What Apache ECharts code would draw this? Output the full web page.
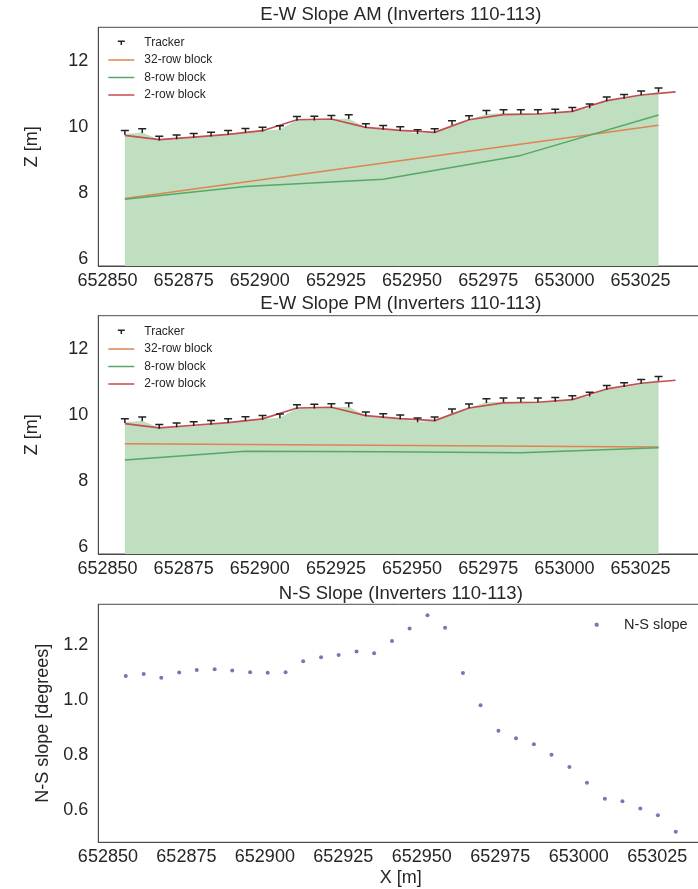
<!DOCTYPE html>
<html><head><meta charset="utf-8">
<script src="https://cdn.jsdelivr.net/npm/echarts@6/dist/echarts.min.js"></script>
<style>html,body{margin:0;padding:0;background:#fff}#c{width:698px;height:889px}</style>
</head><body><div id="c"></div>
<script>
// ---- data ----
const trackerX = [652855.7, 652861.4, 652867.0, 652872.7, 652878.3, 652884.0, 652889.6, 652895.3,
  652900.9, 652906.6, 652912.2, 652917.9, 652923.5, 652929.2, 652934.8, 652940.5,
  652946.1, 652951.8, 652957.4, 652963.1, 652968.7, 652974.4, 652980.0, 652985.7,
  652991.3, 652997.0, 653002.6, 653008.3, 653013.9, 653019.6, 653025.2, 653030.9];
const trackerZ = [9.785, 9.836, 9.615, 9.654, 9.693, 9.736, 9.785, 9.845,
  9.888, 9.927, 10.209, 10.222, 10.24, 10.261, 9.988, 9.936,
  9.897, 9.806, 9.836, 10.079, 10.231, 10.392, 10.413, 10.413,
  10.413, 10.434, 10.483, 10.586, 10.798, 10.877, 10.98, 11.071];
const block2X = [652855.7, 652867.0, 652878.3, 652889.6, 652900.9, 652912.2, 652923.5, 652934.8,
  652946.1, 652957.4, 652968.7, 652980.0, 652991.3, 653002.6, 653013.9, 653025.2, 653036.5];
const block2Z = [9.745, 9.615, 9.696, 9.776, 9.888, 10.22, 10.243, 9.988,
  9.897, 9.836, 10.22, 10.373, 10.394, 10.473, 10.798, 10.97, 11.062];
const block8X = [652855.7, 652895.3, 652940.5, 652985.7, 653030.9];
const block8ZAM = [7.815, 8.2, 8.42, 9.14, 10.364];
const block8ZPM = [8.645, 8.905, 8.895, 8.86, 9.015];
const block32X = [652855.7, 653030.9];
const block32ZAM = [7.835, 10.05];
const block32ZPM = [9.132, 9.04];
const nsSlope = [1.087, 1.095, 1.081, 1.100, 1.109, 1.112, 1.107, 1.101,
  1.099, 1.101, 1.141, 1.156, 1.164, 1.176, 1.170, 1.215,
  1.260, 1.308, 1.263, 1.098, 0.981, 0.888, 0.861, 0.839,
  0.801, 0.757, 0.699, 0.641, 0.632, 0.606, 0.581, 0.521];
const xTicks = [652850, 652875, 652900, 652925, 652950, 652975, 653000, 653025];
const zTicks = [6, 8, 10, 12];
const nsTicks = [0.6, 0.8, 1.0, 1.2];

// ---- styles ----
const FONT = 'Liberation Sans, Arial, sans-serif';
const TXT = '#262626';
const C_FILL = '#c0dfc0', C_OR = '#dd8452', C_GR = '#55a868', C_RD = '#c44e52', C_TR = '#222222', C_NS = '#8172b3';
const CORNERS = 'M0,0 L0.01,0 L0,0.01 Z M26,14 L25.99,14 L26,13.99 Z ';
const ICON_LINE = 'path://' + CORNERS + 'M0,6.25 H26 V7.75 H0 Z';
const ICON_T = 'path://' + CORNERS + 'M9.5,4.8 H16.5 V6.3 H13.75 V9.3 H12.25 V6.3 H9.5 Z';
const ICON_DOT = 'path://' + CORNERS + 'M12,5 H14 L15,6 V8 L14,9 H12 L11,8 V6 Z';
const T_SYMBOL = 'path://M0,0 H8 V1.5 H4.75 V5 H3.25 V1.5 H0 Z';

const zip = (a, b) => a.map((v, i) => [v, b[i]]);

const grids = [
  {left: 98.3, width: 605, top: 27.3, height: 238.7},
  {left: 98.3, width: 605, top: 315.7, height: 238.3},
  {left: 98.3, width: 605, top: 604.3, height: 238}
].map(g => Object.assign(g, {show: true, borderColor: '#4a4a4a', borderWidth: 1, backgroundColor: 'transparent',
  containLabel: false, outerBoundsMode: 'none'}));

function xAx(i, min, max, extra) {
  return Object.assign({
    type: 'value', gridIndex: i, min: min, max: max, z: 5,
    axisLine: {show: true, onZero: false, lineStyle: {color: '#4a4a4a', width: 1}},
    axisTick: {show: false}, splitLine: {show: false},
    axisLabel: {customValues: xTicks, formatter: v => String(Math.round(v)), fontSize: 18, color: TXT, fontFamily: FONT, margin: 6}
  }, extra || {});
}
function yAx(i, min, max, ticks, fmt, name, gap) {
  return {
    type: 'value', gridIndex: i, min: min, max: max, z: 5,
    axisLine: {show: true, onZero: false, lineStyle: {color: '#4a4a4a', width: 1}},
    axisTick: {show: false}, splitLine: {show: false},
    axisLabel: {customValues: ticks, formatter: fmt, fontSize: 18, color: TXT, fontFamily: FONT, margin: 10},
    name: name, nameLocation: 'middle', nameGap: gap,
    nameTextStyle: {fontSize: 18, color: TXT, fontFamily: FONT}
  };
}

function ewSeries(i, z8, z32) {
  return [
    {type: 'line', name: 'fill', xAxisIndex: i, yAxisIndex: i, data: zip(trackerX, trackerZ),
      showSymbol: false, symbol: 'none', silent: true, lineStyle: {width: 0},
      areaStyle: {color: C_FILL, opacity: 1, origin: 'start'}, z: 1},
    {type: 'line', name: '32-row block', xAxisIndex: i, yAxisIndex: i, data: zip(block32X, z32),
      symbol: 'none', color: C_OR, lineStyle: {color: C_OR, width: 1.5}, z: 2},
    {type: 'line', name: '8-row block', xAxisIndex: i, yAxisIndex: i, data: zip(block8X, z8),
      symbol: 'none', color: C_GR, lineStyle: {color: C_GR, width: 1.5}, z: 2},
    {type: 'line', name: '2-row block', xAxisIndex: i, yAxisIndex: i, data: zip(block2X, block2Z),
      symbol: 'none', color: C_RD, lineStyle: {color: C_RD, width: 1.7}, z: 3},
    {type: 'scatter', name: 'Tracker', xAxisIndex: i, yAxisIndex: i, data: zip(trackerX, trackerZ),
      symbol: T_SYMBOL, symbolSize: [8, 5], symbolOffset: [0, -1.8], symbolKeepAspect: false,
      itemStyle: {color: C_TR, opacity: 1}, z: 4}
  ];
}

function ewLegend(top) {
  return {
    orient: 'vertical', left: 108.3, top: top, padding: 0, itemWidth: 26, itemHeight: 14, itemGap: 3.4,
    itemStyle: {borderWidth: 0}, symbolKeepAspect: true, selectedMode: false,
    textStyle: {fontSize: 12, color: TXT, fontFamily: FONT, lineHeight: 14, padding: [0, 0, 0, 5]},
    data: [
      {name: 'Tracker', icon: ICON_T},
      {name: '32-row block', icon: ICON_LINE},
      {name: '8-row block', icon: ICON_LINE},
      {name: '2-row block', icon: ICON_LINE}
    ]
  };
}

const titleStyle = {fontSize: 18.5, color: TXT, fontFamily: FONT, fontWeight: 'normal'};

const option = {
  animation: false,
  backgroundColor: '#ffffff',
  title: [
    {text: 'E-W Slope AM (Inverters 110-113)', left: 400.8, top: 5.5, textAlign: 'center', textStyle: titleStyle, padding: 0},
    {text: 'E-W Slope PM (Inverters 110-113)', left: 400.8, top: 294.5, textAlign: 'center', textStyle: titleStyle, padding: 0},
    {text: 'N-S Slope (Inverters 110-113)', left: 400.8, top: 584.5, textAlign: 'center', textStyle: titleStyle, padding: 0}
  ],
  legend: [
    ewLegend(35.7),
    ewLegend(324.7),
    {orient: 'vertical', left: 583.7, top: 617.3, padding: 0, itemWidth: 26, itemHeight: 14, selectedMode: false,
      itemStyle: {borderWidth: 0}, symbolKeepAspect: true,
      textStyle: {fontSize: 14.5, color: TXT, fontFamily: FONT, lineHeight: 14, padding: [0, 0, 0, 9.3]},
      data: [{name: 'N-S slope', icon: ICON_DOT}]}
  ],
  grid: grids,
  xAxis: [
    xAx(0, 652846.98, 653045.6),
    xAx(1, 652846.98, 653045.6),
    xAx(2, 652846.94, 653039.66, {name: 'X [m]', nameLocation: 'middle', nameGap: 27,
      nameTextStyle: {fontSize: 18, color: TXT, fontFamily: FONT}})
  ],
  yAxis: [
    yAx(0, 5.79, 13.02, zTicks, v => String(v), 'Z [m]', 57),
    yAx(1, 5.79, 13.02, zTicks, v => String(v), 'Z [m]', 57),
    yAx(2, 0.483, 1.348, nsTicks, v => v.toFixed(1), 'N-S slope [degrees]', 39)
  ],
  series: [
    ...ewSeries(0, block8ZAM, block32ZAM),
    ...ewSeries(1, block8ZPM, block32ZPM),
    {type: 'scatter', name: 'N-S slope', xAxisIndex: 2, yAxisIndex: 2, data: zip(trackerX, nsSlope),
      symbol: 'circle', symbolSize: 4, itemStyle: {color: C_NS, opacity: 1}}
  ]
};

const chart = echarts.init(document.getElementById('c'), null, {renderer: 'canvas'});
chart.setOption(option);
</script>
</body></html>
